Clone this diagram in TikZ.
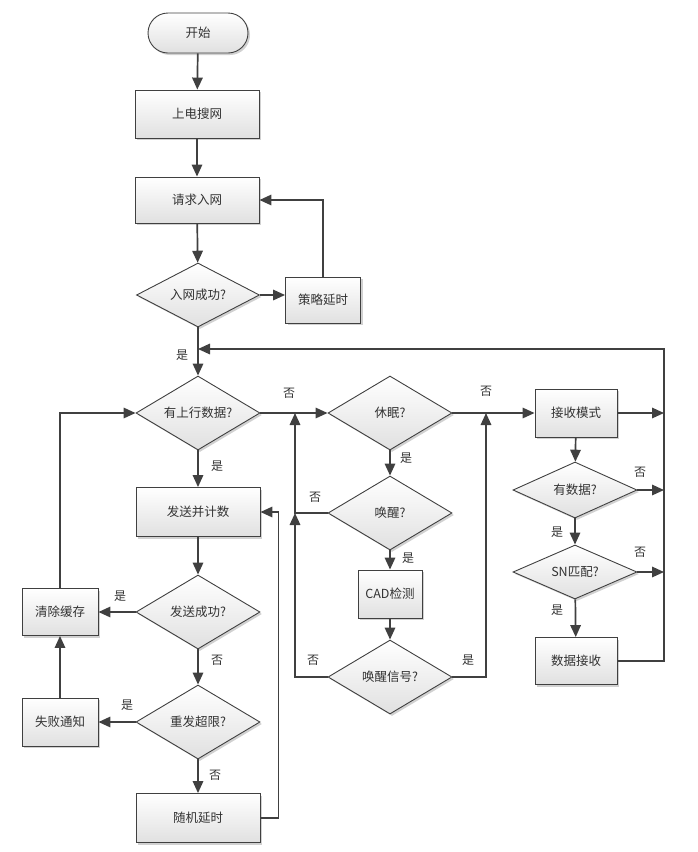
\documentclass[tikz,border=0pt]{standalone}
\usepackage{fontspec}
\setmainfont{Noto Sans CJK SC}
\usetikzlibrary{arrows.meta,shapes.geometric,shadows,calc}
\definecolor{ln}{HTML}{404040}
\definecolor{tx}{HTML}{333333}
\begin{document}
\begin{tikzpicture}[x=1pt,y=-1pt,
  base/.style={draw=ln, line width=0.9pt, text=tx, inner sep=0pt,
    top color=white, bottom color=black!12,
    drop shadow={shadow xshift=2pt, shadow yshift=-2pt, fill=black, opacity=0.18},
    font=\fontsize{12.5}{15}\selectfont},
  proc/.style={base, rectangle, minimum width=#1, minimum height=48pt},
  proc/.default=124pt,
  term/.style={base, rectangle, rounded corners=20pt, minimum width=100pt, minimum height=40pt},
  dec/.style={base, diamond, aspect=1.7, minimum width=124pt, minimum height=74pt},
  arr/.style={draw=ln, line width=1.7pt, -{Triangle[length=12pt,width=10.5pt]}},
  lnk/.style={draw=ln, line width=1.7pt},
  lab/.style={text=tx, font=\fontsize{12}{14}\selectfont, inner sep=0pt}]
\useasboundingbox (0,0) rectangle (698,852);
% nodes
\node[term] (start) at (198,33) {开始};
\node[proc] (p1) at (197,114) {上电搜网};
\node[proc, minimum height=46pt] (p2) at (197,200) {请求入网};
\node[dec, minimum width=123pt, minimum height=64pt, aspect=1.9] (d1) at (198,295) {入网成功?};
\node[proc=75pt, minimum height=46pt] (dly) at (323,300) {策略延时};
\node[dec] (d2) at (198,413) {有上行数据?};
\node[proc, minimum height=49pt] (p3) at (198,512) {发送并计数};
\node[dec] (d3) at (198,612) {发送成功?};
\node[proc=76pt, minimum height=47pt] (clr) at (60,612) {清除缓存};
\node[dec] (d4) at (198,722) {重发超限?};
\node[proc=76pt] (fail) at (60,722) {失败通知};
\node[proc, minimum height=49pt] (rnd) at (198,818) {随机延时};
\node[dec] (d5) at (390,413) {休眠?};
\node[dec] (d6) at (390,513) {唤醒?};
\node[proc=64pt] (cad) at (390,594) {CAD检测};
\node[dec] (d7) at (390,677) {唤醒信号?};
\node[proc=82pt] (rx) at (576,413) {接收模式};
\node[dec, minimum height=56pt, aspect=2.2] (d8) at (575,490) {有数据?};
\node[dec, minimum height=54pt, aspect=2.2] (d9) at (575,572) {SN匹配?};
\node[proc=82pt, minimum height=47pt] (dat) at (576,661) {数据接收};
% helper coordinates
\coordinate (rr) at (664,349);
\coordinate (v1) at (295,413);
\coordinate (v2) at (486,413);
% connectors
\draw[arr] (start) -- (p1);
\draw[arr] (p1) -- (p2);
\draw[arr] (p2) -- (d1);
\draw[arr] (d1.east) -- (d1.east -| dly.west);
\draw[arr] (dly.north) |- (p2.east);
\draw[arr] (d1.south) -- (d2.north);
\draw[arr] (dat.east) -| (rr) -- (rr -| d2.north);
\draw[arr] (d2) -- (p3);
\draw[arr] (p3) -- (d3);
\draw[arr] (d3.west) -- (clr.east);
\draw[arr] (d3) -- (d4);
\draw[arr] (d4.west) -- (fail.east);
\draw[arr] (d4) -- (rnd);
\draw[arr] (fail) -- (clr);
\draw[arr] (clr.north) |- (d2.west);
\draw[arr] (rnd.east) -- ++(18,0) |- (p3.east);
\draw[arr] (d2.east) -- (d5.west);
\draw[arr] (d6.west) -| (v1);
\draw[arr] (d7.west) -| (d6.west -| v1);
\draw[arr] (d5) -- (d6);
\draw[arr] (d6) -- (cad);
\draw[arr] (cad) -- (d7);
\draw[arr] (d7.east) -| (v2);
\draw[arr] (d5.east) -- (rx.west);
\draw[arr] (rx.east) -- (rx.east -| rr);
\draw[arr] (rx) -- (d8);
\draw[arr] (d8.east) -- (d8.east -| rr);
\draw[arr] (d8) -- (d9);
\draw[arr] (d9.east) -- (d9.east -| rr);
\draw[arr] (d9) -- (dat);
% labels
\node[lab] at (182,355) {是};
\node[lab] at (217,466) {是};
\node[lab] at (120,596) {是};
\node[lab] at (217,660) {否};
\node[lab] at (127,705) {是};
\node[lab] at (215,775) {否};
\node[lab] at (289,393) {否};
\node[lab] at (315,497) {否};
\node[lab] at (313,660) {否};
\node[lab] at (406,458) {是};
\node[lab] at (408,558) {是};
\node[lab] at (468,660) {是};
\node[lab] at (486,391) {否};
\node[lab] at (640,472) {否};
\node[lab] at (557,532) {是};
\node[lab] at (640,552) {否};
\node[lab] at (557,610) {是};
\end{tikzpicture}
\end{document}
